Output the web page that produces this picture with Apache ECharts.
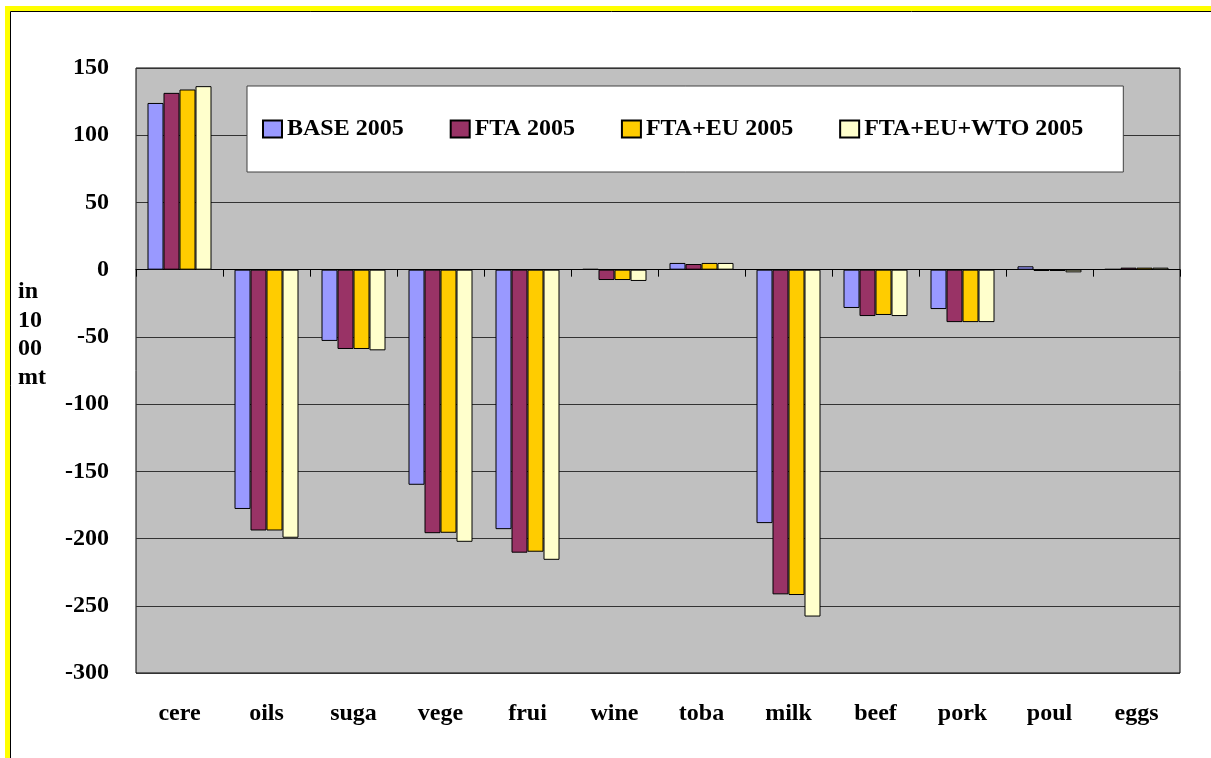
<!DOCTYPE html>
<html>
<head>
<meta charset="utf-8">
<script src="https://cdn.jsdelivr.net/npm/echarts@6/dist/echarts.min.js"></script>
<style>
html,body{margin:0;padding:0;background:#fff;}
#c{width:1211px;height:758px;}
</style>
</head>
<body>
<div id="c"></div>
<script>
const categories = ['cere','oils','suga','vege','frui','wine','toba','milk','beef','pork','poul','eggs'];
const seriesNames = ['BASE 2005','FTA 2005','FTA+EU 2005','FTA+EU+WTO 2005'];
const base2005 = [124, -178, -53, -160, -193, 0.5, 5, -188.5, -28.5, -29.3, 2.5, 0.5];
const fta2005 = [131.5, -194, -59, -196, -210.5, -7.7, 4.2, -241.5, -34.5, -39, -1, 1.5];
const ftaEu2005 = [134, -194, -59, -195.7, -209.8, -7.7, 5, -242, -33.7, -39, -1, 1.5];
const ftaEuWto2005 = [136.5, -199.4, -60, -202.4, -215.8, -8.4, 5, -258, -34.5, -39, -2, 1.5];
const yTicks = {min: -300, max: 150, interval: 50};
const colors = ['#9999FF', '#993366', '#FFCC00', '#FFFFCC'];
const yTitleLines = ['in', '10', '00', 'mt'];

const allData = [base2005, fta2005, ftaEu2005, ftaEuWto2005];
const font = 'Liberation Serif';
const fs = 24;

const chart = echarts.init(document.getElementById('c'), null, {renderer: 'canvas'});
chart.setOption({
  animation: false,
  backgroundColor: '#fff',
  textStyle: {fontFamily: font},
  grid: {
    left: 136, top: 68, width: 1044, height: 605,
    show: true, backgroundColor: '#C0C0C0', borderColor: '#000', borderWidth: 1,
    containLabel: false
  },
  legend: {
    left: 247, top: 86,
    padding: [31, 40, 31, 15],
    itemGap: 46,
    itemWidth: 19, itemHeight: 17,
    backgroundColor: '#fff', borderColor: '#404040', borderWidth: 1,
    textStyle: {fontFamily: font, fontWeight: 'bold', fontSize: fs, color: '#000'},
    data: seriesNames.map(n => ({name: n, icon: 'rect'}))
  },
  xAxis: [
    {
      type: 'category', data: categories, position: 'bottom',
      axisLine: {onZero: true, lineStyle: {color: '#000', width: 1}},
      axisTick: {show: true, length: 7, lineStyle: {color: '#000'}},
      axisLabel: {show: false},
      splitLine: {show: false}
    },
    {
      type: 'category', data: categories, position: 'bottom',
      axisLine: {show: false, onZero: false},
      axisTick: {show: false},
      axisLabel: {show: true, margin: 29, fontFamily: font, fontWeight: 'bold', fontSize: fs, color: '#000'},
      splitLine: {show: false}
    }
  ],
  yAxis: {
    type: 'value', min: yTicks.min, max: yTicks.max, interval: yTicks.interval,
    axisLine: {show: false},
    axisTick: {show: false},
    axisLabel: {margin: 27, fontFamily: font, fontWeight: 'bold', fontSize: fs, color: '#000'},
    splitLine: {show: true, lineStyle: {color: '#333', width: 1}}
  },
  graphic: [
    {type: 'rect', silent: true, shape: {x: 7.5, y: 8.5, width: 2000, height: 2000},
     style: {fill: null, stroke: '#FFFF00', lineWidth: 5}},
    {type: 'rect', silent: true, shape: {x: 10.5, y: 11.5, width: 2000, height: 2000},
     style: {fill: null, stroke: '#000', lineWidth: 1}},
    {type: 'text', left: 18, top: 278,
     style: {text: yTitleLines.join('\n'), fontFamily: font, fontWeight: 'bold', fontSize: fs,
             lineHeight: 28.5, fill: '#000'}}
  ],
  series: seriesNames.map((n, i) => ({
    name: n, type: 'bar', xAxisIndex: 0,
    data: allData[i],
    barWidth: 16, barGap: '0%',
    itemStyle: {color: colors[i], borderColor: '#000', borderWidth: 1}
  }))
});
</script>
</body>
</html>
